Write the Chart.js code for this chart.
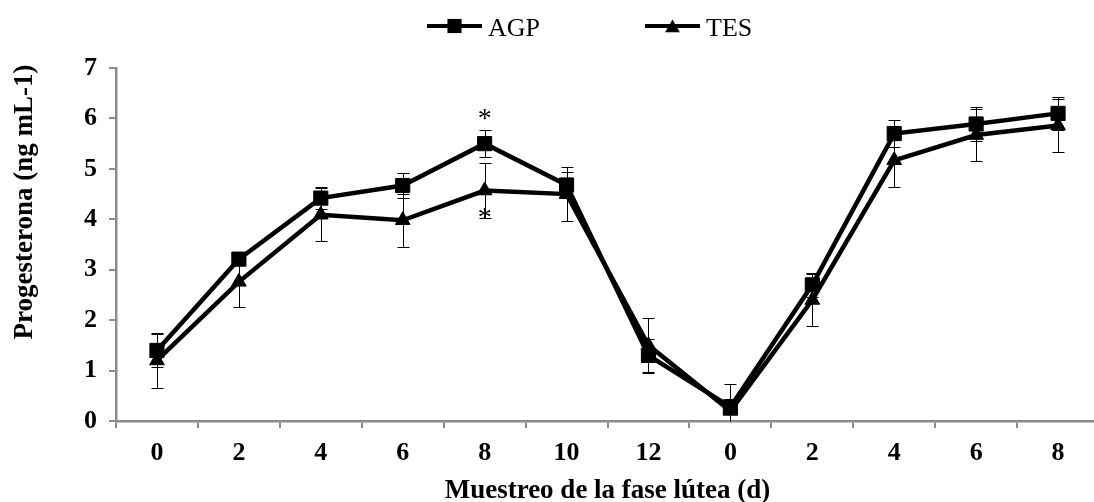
<!DOCTYPE html>
<html>
<head>
<meta charset="utf-8">
<script src="https://cdn.jsdelivr.net/npm/chart.js@4/dist/chart.umd.min.js"></script>
<style>
  html, body { margin: 0; padding: 0; background: #fff; overflow: hidden; }
  #wrap { width: 1110px; height: 502px; }
</style>
</head>
<body>
<div id="wrap"><canvas id="c" width="1110" height="502"></canvas></div>
<script>
// Sampling days across the luteal phase (two consecutive cycles)
const dias = ['0', '2', '4', '6', '8', '10', '12', '0', '2', '4', '6', '8'];

// Progesterone (ng mL-1), mean and standard error per group
const agp    = [1.40, 3.21, 4.42, 4.67, 5.50, 4.68, 1.30, 0.28, 2.70, 5.70, 5.89, 6.10];
const agpErr = [0.33, 0.10, 0.22, 0.24, 0.27, 0.25, 0.33, 0.15, 0.24, 0.27, 0.33, 0.33];
const tes    = [1.20, 2.76, 4.09, 3.98, 4.57, 4.50, 1.50, 0.20, 2.40, 5.17, 5.67, 5.86];
const tesErr = [0.54, 0.50, 0.53, 0.53, 0.55, 0.53, 0.55, 0.53, 0.52, 0.53, 0.52, 0.52];

// Significance marks per sampling day
const agpSig = ['', '', '', '', '*', '', '', '', '', '', '', ''];
const tesSig = ['', '', '', '', '*', '', '', '', '', '', '', ''];

const yMin = 0, yMax = 7, yStep = 1;

const SERIF = '"Liberation Serif", "Times New Roman", serif';
const AXIS_GRAY = '#8c8c8c';

function markerPath(ctx, style, x, y, r) {
  ctx.beginPath();
  if (style === 'rect') {
    const s = r * Math.SQRT1_2;
    ctx.rect(x - s, y - s, 2 * s, 2 * s);
  } else {
    ctx.moveTo(x, y - r);
    ctx.lineTo(x + r * Math.sin(2 * Math.PI / 3), y - r * Math.cos(2 * Math.PI / 3));
    ctx.lineTo(x + r * Math.sin(4 * Math.PI / 3), y - r * Math.cos(4 * Math.PI / 3));
    ctx.closePath();
  }
}

// Vertical error bars with caps, positioned through the value scale
const errorBars = {
  id: 'errorBars',
  afterDatasetsDraw(chart) {
    const { ctx, chartArea: a } = chart;
    const ys = chart.scales.y;
    ctx.save();
    ctx.beginPath();
    ctx.rect(a.left, a.top - 20, a.right - a.left, a.bottom - a.top + 21);
    ctx.clip();
    ctx.strokeStyle = '#000';
    ctx.lineWidth = 1;
    chart.data.datasets.forEach((ds, i) => {
      const meta = chart.getDatasetMeta(i);
      meta.data.forEach((pt, j) => {
        const v = ds.data[j], e = ds.errors[j];
        const x = Math.round(pt.x) + 0.5;
        const yt = Math.round(ys.getPixelForValue(v + e)) + 0.5;
        const yb = Math.round(ys.getPixelForValue(v - e)) + 0.5;
        ctx.beginPath();
        ctx.moveTo(x, yt); ctx.lineTo(x, yb);
        ctx.moveTo(x - 6, yt); ctx.lineTo(x + 6, yt);
        ctx.moveTo(x - 6, yb); ctx.lineTo(x + 6, yb);
        ctx.stroke();
      });
    });
    ctx.restore();
  }
};

// Asterisks for significant differences, above or below the error bar
const sigMarks = {
  id: 'sigMarks',
  afterDatasetsDraw(chart) {
    const { ctx } = chart;
    const ys = chart.scales.y;
    ctx.save();
    ctx.fillStyle = '#000';
    ctx.font = '28px ' + SERIF;
    ctx.textAlign = 'center';
    ctx.textBaseline = 'alphabetic';
    chart.data.datasets.forEach((ds, i) => {
      const meta = chart.getDatasetMeta(i);
      meta.data.forEach((pt, j) => {
        const mark = ds.sig[j];
        if (!mark) return;
        const v = ds.data[j], e = ds.errors[j];
        const y = ds.sigPos === 'above'
          ? ys.getPixelForValue(v + e) - 3
          : ys.getPixelForValue(v - e) + 8;
        ctx.fillText(mark, pt.x, y);
      });
    });
    ctx.restore();
  }
};

// Legend row: line with marker, followed by the series name
const lineLegend = {
  id: 'lineLegend',
  afterDraw(chart) {
    const { ctx } = chart;
    const startX = 427, pitch = 218, y = 26, lineLen = 55;
    ctx.save();
    chart.data.datasets.forEach((ds, i) => {
      const x0 = startX + i * pitch;
      ctx.strokeStyle = '#000';
      ctx.lineWidth = 4;
      ctx.beginPath();
      ctx.moveTo(x0, y); ctx.lineTo(x0 + lineLen, y);
      ctx.stroke();
      ctx.fillStyle = '#000';
      markerPath(ctx, ds.pointStyle, x0 + lineLen / 2, ds.pointStyle === 'triangle' ? y + 2 : y, ds.pointStyle === 'triangle' ? 8.5 : 10);
      ctx.fill();
      ctx.font = '26px ' + SERIF;
      ctx.textAlign = 'left';
      ctx.textBaseline = 'alphabetic';
      ctx.fillText(ds.label, x0 + lineLen + 6, y + 10);
    });
    ctx.restore();
  }
};

// Rotated value-axis title
const yTitle = {
  id: 'yTitle',
  afterDraw(chart) {
    const { ctx } = chart;
    ctx.save();
    ctx.translate(25, 202);
    ctx.rotate(-Math.PI / 2);
    ctx.font = 'bold 27px ' + SERIF;
    ctx.fillStyle = '#000';
    ctx.textAlign = 'center';
    ctx.textBaseline = 'middle';
    ctx.fillText('Progesterona (ng mL-1)', 0, 0);
    ctx.restore();
  }
};

new Chart(document.getElementById('c'), {
  type: 'line',
  data: {
    labels: dias,
    datasets: [
      {
        label: 'AGP', data: agp, errors: agpErr, sig: agpSig, sigPos: 'above',
        borderColor: '#000', backgroundColor: '#000', borderWidth: 4.5,
        pointStyle: 'rect', pointRadius: 10, pointBorderWidth: 1,
        pointBackgroundColor: '#000', pointBorderColor: '#000',
        tension: 0, order: 1
      },
      {
        label: 'TES', data: tes, errors: tesErr, sig: tesSig, sigPos: 'below',
        borderColor: '#000', backgroundColor: '#000', borderWidth: 4.5,
        pointStyle: 'triangle', pointRadius: 8.5, pointBorderWidth: 1,
        pointBackgroundColor: '#000', pointBorderColor: '#000',
        tension: 0, order: 0
      }
    ]
  },
  options: {
    responsive: false,
    animation: false,
    devicePixelRatio: 1,
    layout: { padding: { top: 68, right: 5, left: 0, bottom: 0 } },
    plugins: {
      legend: { display: false },
      tooltip: { enabled: false }
    },
    scales: {
      x: {
        type: 'category',
        offset: true,
        grid: {
          offset: true, drawOnChartArea: false, drawTicks: true,
          tickLength: 7, color: AXIS_GRAY, lineWidth: 2
        },
        border: { color: AXIS_GRAY, width: 2.5 },
        ticks: {
          color: '#000', autoSkip: false, maxRotation: 0, padding: 10,
          font: { family: SERIF, size: 26, weight: 'bold' }
        },
        title: {
          display: true, text: 'Muestreo de la fase lútea (d)', color: '#000',
          font: { family: SERIF, size: 27, weight: 'bold', lineHeight: 0.8 },
          padding: { top: 0, bottom: 0 }
        },
        afterFit(scale) { scale.height = 81; }
      },
      y: {
        min: yMin, max: yMax,
        grid: {
          drawOnChartArea: false, drawTicks: true,
          tickLength: 7, color: AXIS_GRAY, lineWidth: 2
        },
        border: { color: AXIS_GRAY, width: 2.5 },
        ticks: {
          stepSize: yStep, color: '#000', padding: 12,
          font: { family: SERIF, size: 26, weight: 'bold' }
        },
        afterFit(scale) { scale.width = 116; }
      }
    }
  },
  plugins: [errorBars, sigMarks, lineLegend, yTitle]
});
</script>
</body>
</html>
